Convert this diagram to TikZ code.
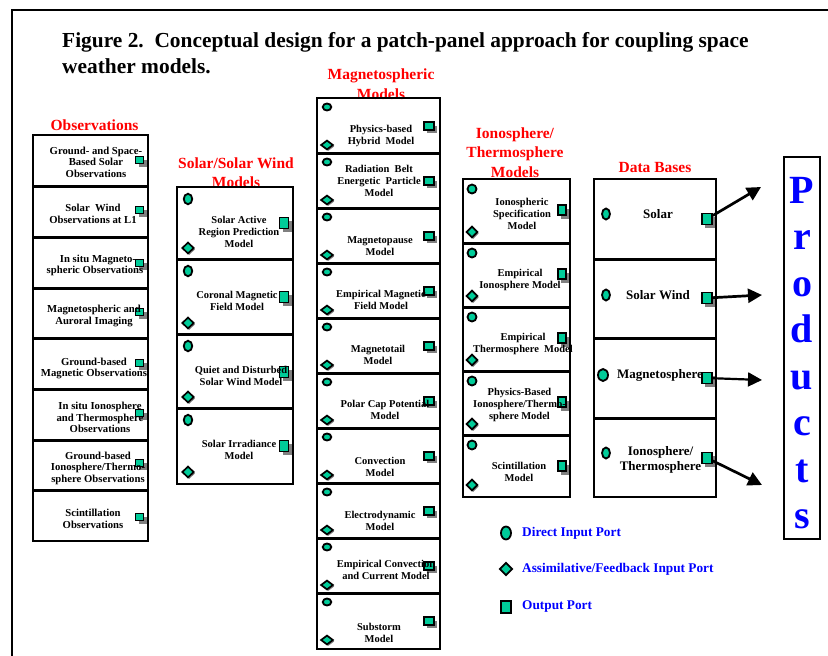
\documentclass[tikz,border=0pt]{standalone}
\usepackage{fontspec}
\setmainfont{Liberation Serif}
\usetikzlibrary{shapes.geometric,shadows,arrows.meta}
\definecolor{portfill}{RGB}{0,204,153}
\definecolor{hdrred}{RGB}{255,0,0}
\definecolor{lgblue}{RGB}{0,0,255}
\definecolor{shadowgray}{RGB}{128,128,128}
\begin{document}
\begin{tikzpicture}[x=1pt,y=-1pt,
  box/.style={draw, line width=2pt, anchor=north west, inner sep=0pt, outer sep=0pt},
  btext/.style={font=\bfseries\fontsize{10.5}{12}\selectfont, align=center, inner sep=0pt},
  otext/.style={font=\bfseries\fontsize{10.7}{11.5}\selectfont, align=center, inner sep=0pt},
  hdr/.style={font=\bfseries\fontsize{15.5}{19.5}\selectfont, text=hdrred, align=center, inner sep=0pt},
  ttl/.style={font=\bfseries\fontsize{21.4}{26}\selectfont, anchor=base west, inner sep=0pt},
  dport/.style={ellipse, draw, line width=1.8pt, fill=portfill, inner sep=0pt},
  aport/.style={diamond, draw, line width=1.7pt, fill=portfill, inner sep=0pt},
  ashadow/.style={drop shadow={shadow xshift=1.2pt, shadow yshift=-1.5pt, fill=shadowgray, opacity=1}},
  oport/.style={rectangle, draw, line width=1.8pt, fill=portfill, inner sep=0pt},
  oshadow/.style={drop shadow={shadow xshift=3pt, shadow yshift=-3.5pt, fill=shadowgray, opacity=1}},
  dbtext/.style={font=\bfseries\fontsize{13}{15}\selectfont, align=center, inner sep=0pt},
  lgtext/.style={font=\bfseries\fontsize{13.3}{15}\selectfont, text=lgblue, anchor=west, inner sep=0pt},
  prodletter/.style={font=\bfseries\fontsize{40}{40}\selectfont, text=lgblue, anchor=base, inner sep=0pt},
  flow/.style={line width=2.7pt, -{Triangle[length=14pt, width=14pt]}},
  frameline/.style={line width=2pt}
]
\useasboundingbox (0,0) rectangle (828,656);

% outer frame
\coordinate (fbl) at (11.5,660);
\coordinate (ftl) at (11.5,9.5);
\coordinate (ftr) at (832,9.5);
\draw[frameline] (fbl) -- (ftl) -- (ftr);

% title
\node[ttl] (title1) at (62,47.5) {Figure 2.\ \ Conceptual design for a patch-panel approach for coupling space};
\node[ttl] (title2) at (62,73) {weather models.};

% headers
\node[hdr] (hobs) at (94.5,125) {Observations};
\node[hdr] (hsol) at (236,172.5) {Solar/Solar Wind\\Models};
\node[hdr] (hmag) at (381,84) {Magnetospheric\\Models};
\node[hdr] (hion) at (515,152.5) {Ionosphere/\\Thermosphere\\Models};
\node[hdr] (hdb) at (655,167) {Data Bases};

% ---------------- Observations ----------------
\foreach \t/\h/\s [count=\n] in {135/52/160, 186/52/210, 237/52/263, 288/51/312, 338/52/363, 389/52/413, 440/51/463, 490/51/517}{
  \node[box, minimum width=115, minimum height=\h] (obs\n) at (33,\t) {};
  \node[oport, oshadow, minimum width=8, minimum height=7] (obso\n) at (139.5,\s) {};
}
\node[otext] (obst1) at (96,162) {Ground- and Space-\\Based Solar\\Observations};
\node[otext] (obst2) at (93,214) {Solar\ \ Wind\\Observations at L1};
\node[otext] (obst3) at (95,265.5) {\hspace*{6pt}In situ Magneto-\\spheric Observations};
\node[otext] (obst4) at (94,316) {Magnetospheric and\\Auroral Imaging};
\node[otext] (obst5) at (94,368.5) {Ground-based\\Magnetic Observations};
\node[otext] (obst6) at (100,417.5) {In situ Ionosphere\\and Thermosphere\\Observations};
\node[otext] (obst7) at (98,468) {Ground-based\\Ionosphere/Thermo-\\sphere Observations};
\node[otext] (obst8) at (93,519) {Scintillation\\Observations};

% ---------------- Solar / Solar Wind ----------------
\foreach \t/\h/\s [count=\n] in {187/73/223, 259/76/297, 334/75/372, 408/76/446}{
  \node[box, minimum width=116, minimum height=\h] (sol\n) at (177,\t) {};
  \node[dport, minimum width=8.5, minimum height=10.5] (sold\n) at (188,{\t+12}) {};
  \node[aport, ashadow, minimum width=12, minimum height=11.5] (sola\n) at (188,{\t+\h-12}) {};
  \node[oport, oshadow, minimum width=9, minimum height=11] (solo\n) at (284,\s) {};
}
\node[btext] (solt1) at (239,232) {Solar Active\\Region Prediction\\Model};
\node[btext] (solt2) at (237,300.5) {Coronal Magnetic\\Field Model};
\node[btext] (solt3) at (241,376) {Quiet and Disturbed\\Solar Wind Model};
\node[btext] (solt4) at (239,449.5) {Solar Irradiance\\Model};

% ---------------- Magnetospheric ----------------
\foreach \t [count=\n] in {98,153,208,263,318,373,428,483,538,593}{
  \node[box, minimum width=123, minimum height=56] (mag\n) at (317,\t) {};
  \node[dport, minimum width=8.5, minimum height=7] (magd\n) at (327,{\t+9}) {};
  \node[aport, ashadow, minimum width=12.5, minimum height=9.5] (maga\n) at (327,{\t+47}) {};
  \node[oport, oshadow, minimum width=9.5, minimum height=7.5] (mago\n) at (429,{\t+28}) {};
}
\node[btext] (magt1) at (381,135.5) {Physics-based\\Hybrid\ \ Model};
\node[btext] (magt2) at (379,181) {Radiation\ \ Belt\\Energetic\ \ Particle\\Model};
\node[btext] (magt3) at (380,246) {Magnetopause\\Model};
\node[btext] (magt4) at (381,300) {Empirical Magnetic\\Field Model};
\node[btext] (magt5) at (378,354.5) {Magnetotail\\Model};
\node[btext] (magt6) at (385,410) {Polar Cap Potential\\Model};
\node[btext] (magt7) at (380,467) {Convection\\Model};
\node[btext] (magt8) at (380,521) {Electrodynamic\\Model};
\node[btext] (magt9) at (386,569.5) {Empirical Convection\\and Current Model};
\node[btext] (magt10) at (379,632.5) {Substorm\\Model};

% ---------------- Ionosphere / Thermosphere ----------------
\foreach \t/\h [count=\n] in {179/65, 243/65, 307/65, 371/65, 435/62}{
  \node[box, minimum width=107, minimum height=\h] (ion\n) at (463,\t) {};
  \node[dport, minimum width=9, minimum height=9] (iond\n) at (472,{\t+10}) {};
  \node[aport, ashadow, minimum width=11.5, minimum height=11.5] (iona\n) at (472,{\t+\h-12}) {};
  \node[oport, oshadow, minimum width=8.5, minimum height=10] (iono\n) at (562,{\t+31}) {};
}
\node[btext] (iont1) at (522,214) {Ionospheric\\Specification\\Model};
\node[btext] (iont2) at (520,280) {Empirical\\Ionosphere Model};
\node[btext] (iont3) at (523,344) {Empirical\\Thermosphere\ \ Model};
\node[btext] (iont4) at (519.5,405) {Physics-Based\\Ionosphere/Thermo-\\sphere Model};
\node[btext] (iont5) at (519,471.5) {Scintillation\\Model};

% ---------------- Data Bases ----------------
\foreach \t/\h/\s [count=\n] in {179/81/219, 259/80/298, 338/81/378, 418/79/458}{
  \node[box, minimum width=122, minimum height=\h] (db\n) at (594,\t) {};
  \node[oport, oshadow, minimum width=10, minimum height=11] (dbo\n) at (707,\s) {};
}
\node[dport, minimum width=8, minimum height=11] (dbd1) at (606,214) {};
\node[dport, minimum width=8, minimum height=11] (dbd2) at (606,295) {};
\node[dport, minimum width=10, minimum height=12] (dbd3) at (603,375) {};
\node[dport, minimum width=8, minimum height=11] (dbd4) at (606,453) {};
\node[dbtext] (dbt1) at (658,214) {Solar};
\node[dbtext] (dbt2) at (658,295) {Solar Wind};
\node[dbtext] (dbt3) at (660,375) {Magnetosphere};
\node[dbtext] (dbt4) at (660.5,460) {Ionosphere/\\Thermosphere};

% ---------------- Products ----------------
\node[box, minimum width=36, minimum height=382] (prod) at (784,157) {};
\foreach \l/\b [count=\n] in {P/203, r/249, o/296, d/342, u/389, c/435, t/482, s/528}{
  \node[prodletter] (pl\n) at (802,\b) {\l};
}

% arrows to products
\coordinate (pe1) at (761,187);
\coordinate (pe2) at (762,295);
\coordinate (pe3) at (762,380);
\coordinate (pe4) at (762,485);
\draw[flow] (dbo1) -- (pe1);
\draw[flow] (dbo2) -- (pe2);
\draw[flow, line width=2.2pt] (dbo3) -- (pe3);
\draw[flow] (dbo4) -- (pe4);

% ---------------- Legend ----------------
\node[dport, minimum width=10, minimum height=13] (lgd) at (506,533) {};
\node[aport, minimum width=13, minimum height=13] (lga) at (506,569) {};
\node[oport, line width=2pt, minimum width=10.5, minimum height=12.5] (lgo) at (506,607) {};
\node[lgtext] (lgdt) at (522,533) {Direct Input Port};
\node[lgtext] (lgat) at (522,569) {Assimilative/Feedback Input Port};
\node[lgtext] (lgot) at (522,607) {Output Port};
\end{tikzpicture}
\end{document}
